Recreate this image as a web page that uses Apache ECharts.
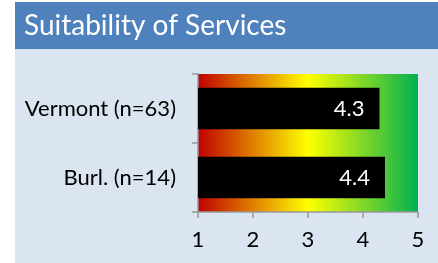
<!DOCTYPE html>
<html>
<head>
<meta charset="utf-8">
<script src="https://cdn.jsdelivr.net/npm/echarts@6/dist/echarts.min.js"></script>
<style>
  html, body { margin: 0; padding: 0; background: #fff; }
  #chart { width: 438px; height: 263px; }
</style>
</head>
<body>
<div id="chart"></div>
<script>
// datos
const categories = ['Vermont (n=63)', 'Burl. (n=14)'];
const scores = [4.3, 4.4];
const tickLabels = ['1', '2', '3', '4', '5'];

const fontFam = 'Lato, "Open Sans", sans-serif';
const chart = echarts.init(document.getElementById('chart'));

const option = {
  backgroundColor: '#fff',
  animation: false,
  graphic: [
    { type: 'rect', z: -10, shape: { x: 15, y: 2, width: 423, height: 47 }, style: { fill: '#4F81BD' } },
    { type: 'rect', z: -10, shape: { x: 15, y: 49, width: 423, height: 214 }, style: { fill: '#DBE5F1' } }
  ],
  title: {
    text: 'Suitability of Services',
    left: 19,
    top: 7,
    textStyle: { color: '#fff', fontSize: 28, fontWeight: 'normal', fontFamily: fontFam }
  },
  grid: {
    left: 198, right: 20, top: 74, bottom: 51,
    show: true,
    borderWidth: 0,
    backgroundColor: new echarts.graphic.LinearGradient(0, 0, 1, 0, [
      { offset: 0, color: '#C00000' },
      { offset: 0.5, color: '#FFFF00' },
      { offset: 1, color: '#00B050' }
    ])
  },
  xAxis: {
    type: 'value',
    min: 1, max: 5, interval: 1,
    axisLine: { show: true, lineStyle: { color: '#999', width: 1.5 } },
    axisTick: { show: true, length: 6, lineStyle: { color: '#999', width: 1.5 } },
    splitLine: { show: false },
    axisLabel: {
      margin: 17,
      color: '#000', fontSize: 22, fontFamily: fontFam,
      formatter: v => tickLabels[v - 1]
    }
  },
  yAxis: {
    type: 'category',
    inverse: true,
    data: categories,
    axisLine: { show: true, lineStyle: { color: '#999', width: 1.5 } },
    axisTick: { show: true, length: 6, lineStyle: { color: '#999', width: 1.5 } },
    axisLabel: { margin: 22, color: '#000', fontSize: 22, fontFamily: fontFam }
  },
  series: [{
    type: 'bar',
    data: scores,
    barCategoryGap: '40%',
    itemStyle: { color: '#000' },
    label: {
      show: true,
      position: 'insideRight',
      distance: 15,
      color: '#fff',
      fontSize: 22,
      fontFamily: fontFam,
      formatter: p => p.value.toFixed(1)
    }
  }]
};

chart.setOption(option);
</script>
</body>
</html>
